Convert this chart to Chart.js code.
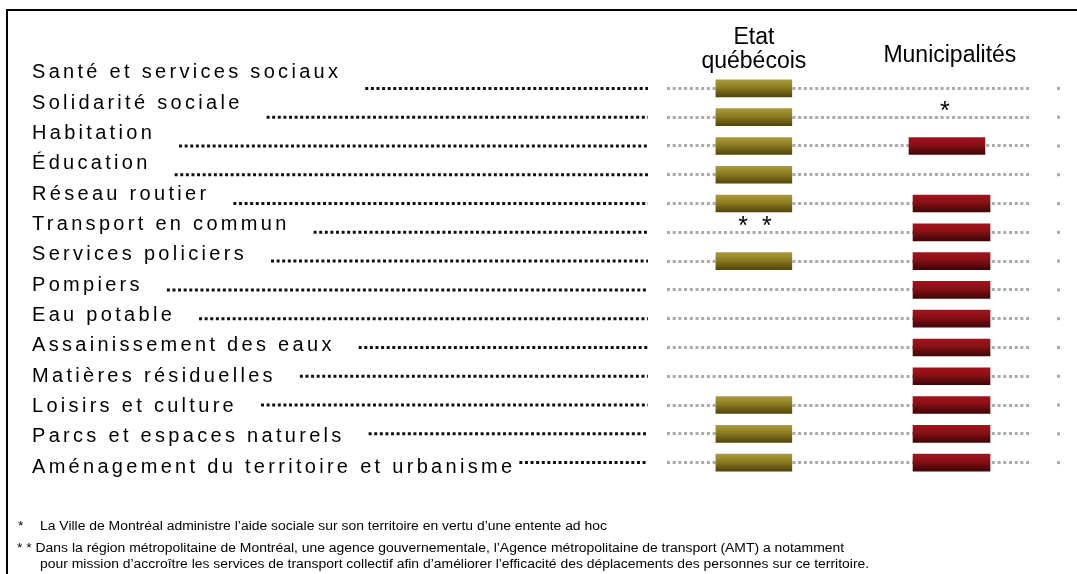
<!DOCTYPE html>
<html>
<head>
<meta charset="utf-8">
<script src="https://cdn.jsdelivr.net/npm/chart.js@4.4.0/dist/chart.umd.min.js"></script>
<style>
    body { margin: 0; background: #fff; }
    #cadre { position: absolute; left: 6px; top: 9px; width: 1100px; height: 600px;
             border-left: 2px solid #000; border-top: 2px solid #000; }
    #graphe { position: absolute; left: 0; top: 0; }
    .note { position: absolute; font-family: 'Liberation Sans', Arial, sans-serif; font-size: 12px; color: #000;
            white-space: nowrap; transform: scaleX(1.16); transform-origin: left top; }
</style>
</head>
<body>
<div id="cadre"></div>
<canvas id="graphe" width="1077" height="574"></canvas>
<div class="note" style="left:18px; top:519px;">*</div>
<div class="note" style="left:40px; top:519px;">La Ville de Montréal administre l’aide sociale sur son territoire en vertu d’une entente ad hoc</div>
<div class="note" style="left:17px; top:541px;">* * Dans la région métropolitaine de Montréal, une agence gouvernementale, l’Agence métropolitaine de transport (AMT) a notamment</div>
<div class="note" style="left:40px; top:557px;">pour mission d’accroître les services de transport collectif afin d’améliorer l’efficacité des déplacements des personnes sur ce territoire.</div>
<script>
    const categories = [
        'Santé et services sociaux',
        'Solidarité sociale',
        'Habitation',
        'Éducation',
        'Réseau routier',
        'Transport en commun',
        'Services policiers',
        'Pompiers',
        'Eau potable',
        'Assainissement des eaux',
        'Matières résiduelles',
        'Loisirs et culture',
        'Parcs et espaces naturels',
        'Aménagement du territoire et urbanisme'
    ];

    // barres flottantes [debut, fin] sur une echelle 0-100
    const etatBars = [
        [13.4, 34.2], [13.4, 34.2], [13.4, 34.2], [13.4, 34.2], [13.4, 34.2],
        null, [13.4, 34.2], null, null, null, null,
        [13.4, 34.2], [13.4, 34.2], [13.4, 34.2]
    ];
    const muniBars = [
        null, null, [66.3, 87.1], null, [67.4, 88.5],
        [67.4, 88.5], [67.4, 88.5], [67.4, 88.5], [67.4, 88.5], [67.4, 88.5], [67.4, 88.5],
        [67.4, 88.5], [67.4, 88.5], [67.4, 88.5]
    ];
    const etatNotes = ['', '', '', '', '', '*  *', '', '', '', '', '', '', '', ''];
    const muniNotes = ['', '*', '', '', '', '', '', '', '', '', '', '', '', ''];
    const etatTitre = ['Etat', 'québécois'];
    const muniTitre = ['Municipalités'];

    function degrade(c, haut, milieu, bas) {
        const y = c.chart.scales.y;
        if (!y) return milieu;
        const yc = y.getPixelForValue(c.dataIndex);
        if (!isFinite(yc)) return milieu;
        const g = c.chart.ctx.createLinearGradient(0, yc - 9, 0, yc + 9);
        g.addColorStop(0, haut);
        g.addColorStop(0.45, milieu);
        g.addColorStop(1, bas);
        return g;
    }

    const textes = {
        id: 'textes',
        afterDraw(chart) {
            const ctx = chart.ctx;
            const x = chart.scales.x;
            const y = chart.scales.y;
            ctx.save();

            // libelles a gauche + pointilles noirs
            ctx.font = '20px "Liberation Sans", Arial, sans-serif';
            ctx.textBaseline = 'alphabetic';
            ctx.textAlign = 'left';
            categories.forEach((lab, i) => {
                const yc = y.getPixelForValue(i);
                ctx.fillStyle = '#000';
                ctx.letterSpacing = '3.3px';
                const base = yc - 10 + i * 1.55;
                ctx.fillText(lab, 32, base);
                const w = ctx.measureText(lab).width;
                ctx.letterSpacing = '0px';
                ctx.beginPath();
                ctx.setLineDash([3, 2.6]);
                ctx.lineWidth = 3;
                ctx.strokeStyle = '#111';
                ctx.moveTo(32 + w + (w > 450 ? 4 : 24), yc);
                ctx.lineTo(648, yc);
                ctx.stroke();

                // point gris isole a droite
                ctx.setLineDash([]);
                ctx.fillStyle = '#aaa';
                ctx.fillRect(chart.chartArea.right + 25, yc - 1.5, 3, 3);
            });

            // titres des colonnes
            ctx.fillStyle = '#000';
            ctx.letterSpacing = '0px';
            ctx.font = '23px "Liberation Sans", Arial, sans-serif';
            ctx.textAlign = 'center';
            const xe = x.getPixelForValue(23.8);
            const xm = x.getPixelForValue(77.5);
            ctx.fillText(etatTitre[0], xe, 44);
            ctx.fillText(etatTitre[1], xe, 68);
            ctx.fillText(muniTitre[0], xm, 62);

            // asterisques
            ctx.font = '25px "Liberation Sans", Arial, sans-serif';
            ctx.textBaseline = 'middle';
            categories.forEach((lab, i) => {
                const yc = y.getPixelForValue(i);
                if (etatNotes[i]) ctx.fillText(etatNotes[i], x.getPixelForValue(24.1), yc - 5);
                if (muniNotes[i]) ctx.fillText(muniNotes[i], x.getPixelForValue(76.1), yc - 5);
            });
            ctx.restore();
        }
    };

    new Chart(document.getElementById('graphe').getContext('2d'), {
        type: 'bar',
        data: {
            labels: categories,
            datasets: [{
                label: 'Etat québécois',
                data: etatBars,
                backgroundColor: c => degrade(c, '#ac9c3c', '#8c7c22', '#4e420c'),
                borderWidth: 0,
                barThickness: 17,
                grouped: false
            }, {
                label: 'Municipalités',
                data: muniBars,
                backgroundColor: c => degrade(c, '#a8121e', '#861016', '#3a0506'),
                borderWidth: 0,
                barThickness: 17,
                grouped: false
            }]
        },
        options: {
            indexAxis: 'y',
            responsive: false,
            animation: false,
            layout: {
                padding: { left: 667, right: 45, top: 74, bottom: 97 }
            },
            plugins: {
                legend: { display: false },
                tooltip: { enabled: false }
            },
            scales: {
                x: {
                    type: 'linear',
                    min: 0,
                    max: 100,
                    display: false
                },
                y: {
                    type: 'category',
                    offset: true,
                    ticks: { display: false },
                    border: { display: false, dash: [3, 2.7] },
                    grid: {
                        offset: false,
                        drawTicks: false,
                        color: '#aaa',
                        lineWidth: 3
                    }
                }
            }
        },
        plugins: [textes]
    });
</script>
</body>
</html>
